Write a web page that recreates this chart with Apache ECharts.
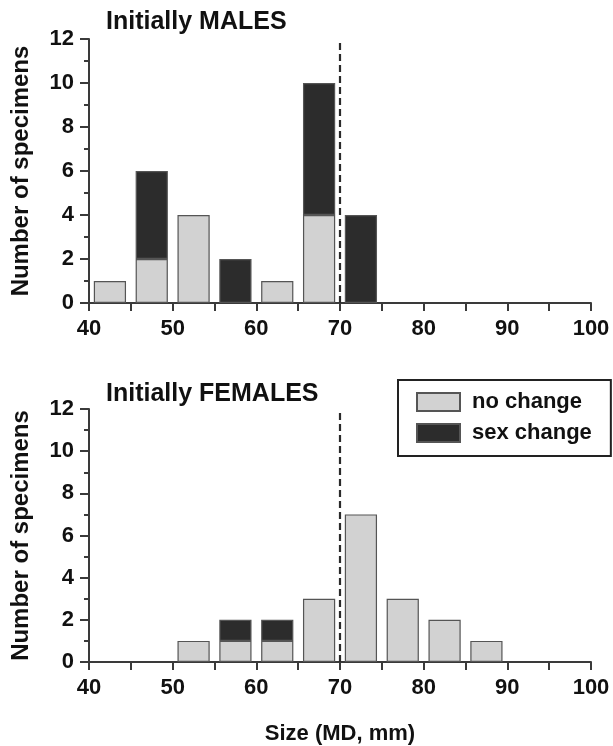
<!DOCTYPE html>
<html>
<head>
<meta charset="utf-8">
<script src="https://cdn.jsdelivr.net/npm/echarts@6/dist/echarts.min.js"></script>
<style>
html,body{margin:0;padding:0;background:#fff;}
#chart{width:613px;height:746px;}
</style>
</head>
<body>
<div id="chart"></div>
<script>
// Bins (size MD, mm), 5 mm wide, labelled by lower edge
const binStarts = [40, 45, 50, 55, 60, 65, 70, 75, 80, 85, 90, 95];
// Initially MALES
const malesNoChange  = [1, 2, 4, null, 1, 4, null, null, null, null, null, null];
const malesSexChange = [null, 4, null, 2, null, 6, 4, null, null, null, null, null];
// Initially FEMALES
const femalesNoChange  = [null, null, 1, 1, 1, 3, 7, 3, 2, 1, null, null];
const femalesSexChange = [null, null, null, 1, 1, null, null, null, null, null, null, null];
// Dashed reference line
const thresholdSize = 70;
const yMax = 12;
const panelTitles = ['Initially MALES', 'Initially FEMALES'];
const seriesNames = ['no change', 'sex change'];

const FONT = "'Liberation Sans', Arial, Helvetica, sans-serif";
const AX = '#3a3a3a';
const LIGHT = '#d2d2d2';
const DARK = '#2c2c2c';

const grids = [
  {left: 89, right: 22, top: 39, height: 264},
  {left: 89, right: 22, top: 409, height: 265}
];

function catAxis(g) {
  return {type: 'category', gridIndex: g, data: binStarts.map(String), show: false, boundaryGap: true};
}
function valXAxis(g, withName) {
  return {
    type: 'value', gridIndex: g, min: 40, max: 100, interval: 5, position: 'bottom',
    axisLine: {show: true, lineStyle: {color: AX, width: 2}},
    axisTick: {show: true, length: 8, lineStyle: {color: AX, width: 2}},
    splitLine: {show: false},
    axisLabel: {
      margin: 15, color: '#111', fontSize: 22, fontWeight: 'bold', fontFamily: FONT,
      showMinLabel: true, showMaxLabel: true,
      formatter: v => (v % 10 === 0 ? String(v) : '')
    },
    name: withName ? 'Size (MD, mm)' : '',
    nameLocation: 'middle', nameGap: 61,
    nameTextStyle: {color: '#111', fontSize: 22, fontWeight: 'bold', fontFamily: FONT}
  };
}
function yAxis(g) {
  return {
    type: 'value', gridIndex: g, min: 0, max: yMax, interval: 2,
    axisLine: {show: true, lineStyle: {color: AX, width: 2}},
    axisTick: {show: true, length: 9, lineStyle: {color: AX, width: 2}},
    minorTick: {show: true, splitNumber: 2, length: 5, lineStyle: {color: AX, width: 2}},
    splitLine: {show: false},
    axisLabel: {margin: 15, color: '#111', fontSize: 22, fontWeight: 'bold', fontFamily: FONT},
    name: 'Number of specimens', nameLocation: 'middle', nameRotate: 90, nameGap: 56,
    nameTextStyle: {color: '#111', fontSize: 24, fontWeight: 'bold', fontFamily: FONT}
  };
}
function barSeries(name, data, xi, yi, stack, color) {
  return {
    name: name, type: 'bar', xAxisIndex: xi, yAxisIndex: yi, stack: stack,
    data: data, barCategoryGap: '23%',
    itemStyle: {color: color, borderColor: '#555', borderWidth: 1.2},
    emphasis: {disabled: true}, animation: false
  };
}
function dashLine(xi, yi) {
  return {
    type: 'line', xAxisIndex: xi, yAxisIndex: yi,
    data: [[thresholdSize, 0], [thresholdSize, yMax]],
    symbol: 'none', silent: true, animation: false,
    lineStyle: {color: '#2a2a2a', width: 2.2, type: [7, 4]}, z: 1
  };
}

const option = {
  backgroundColor: '#fff',
  animation: false,
  textStyle: {fontFamily: FONT},
  title: [
    {text: panelTitles[0], left: 101, top: 5,
     textStyle: {fontSize: 25, fontWeight: 'bold', color: '#111', fontFamily: FONT}},
    {text: panelTitles[1], left: 101, top: 377,
     textStyle: {fontSize: 25, fontWeight: 'bold', color: '#111', fontFamily: FONT}}
  ],
  legend: {
    data: seriesNames, orient: 'vertical', left: 398, top: 380,
    borderColor: '#222', borderWidth: 2, padding: [11, 19, 12, 18],
    itemGap: 9, itemWidth: 43, itemHeight: 18, icon: 'rect',
    selectedMode: false,
    textStyle: {fontSize: 22, fontWeight: 'bold', color: '#111', fontFamily: FONT, padding: [0, 0, 0, 7]}
  },
  grid: grids,
  xAxis: [catAxis(0), valXAxis(0, false), catAxis(1), valXAxis(1, true)],
  yAxis: [yAxis(0), yAxis(1)],
  series: [
    barSeries(seriesNames[0], malesNoChange, 0, 0, 'm', LIGHT),
    barSeries(seriesNames[1], malesSexChange, 0, 0, 'm', DARK),
    dashLine(1, 0),
    barSeries(seriesNames[0], femalesNoChange, 2, 1, 'f', LIGHT),
    barSeries(seriesNames[1], femalesSexChange, 2, 1, 'f', DARK),
    dashLine(3, 1)
  ]
};

const chart = echarts.init(document.getElementById('chart'), null, {renderer: 'canvas'});
chart.setOption(option);
</script>
</body>
</html>
